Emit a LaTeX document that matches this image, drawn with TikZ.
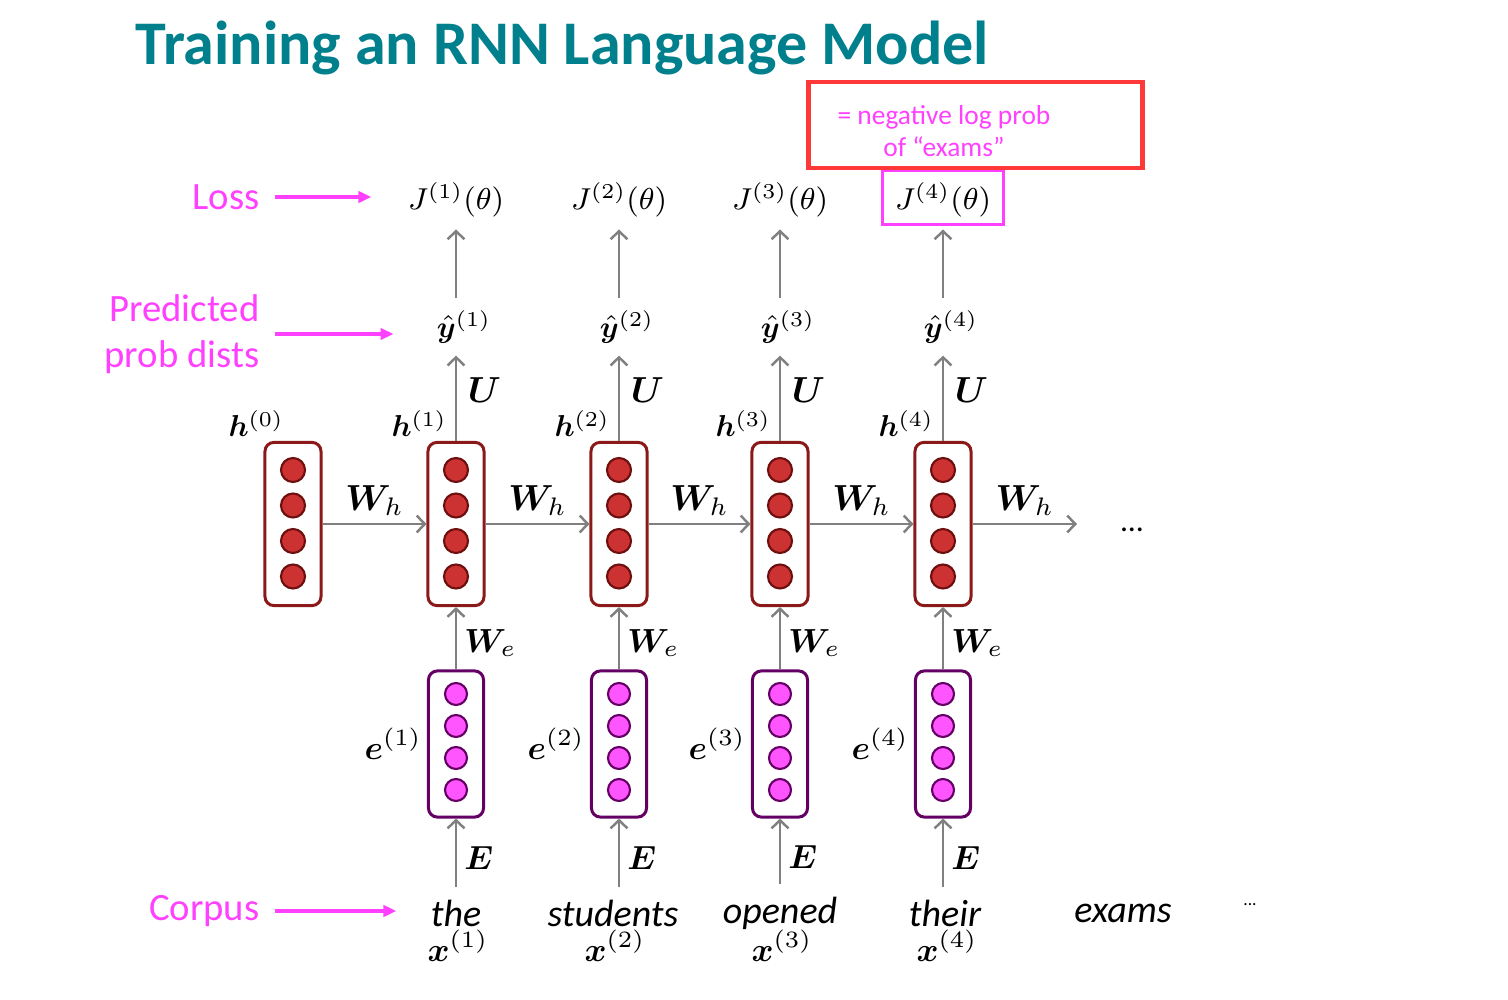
\RequirePackage{fix-cm}
\documentclass[tikz,border=0pt]{standalone}
\usepackage{fontspec}
\setmainfont{Carlito}
\usepackage{amsmath}
\usepackage{bm}
\usepackage{tikz}
\usetikzlibrary{arrows.meta, positioning, calc}
\definecolor{titleteal}{RGB}{0,128,140}
\definecolor{pinkfg}{RGB}{255,64,255}
\definecolor{notered}{RGB}{255,56,56}
\definecolor{hidfill}{RGB}{205,50,50}
\definecolor{hidedge}{RGB}{140,25,25}
\definecolor{hiddot}{RGB}{110,15,15}
\definecolor{embfill}{RGB}{255,85,255}
\definecolor{embedge}{RGB}{100,0,100}
\definecolor{flowgray}{RGB}{128,128,128}

\begin{document}
\begin{tikzpicture}[x=0.01cm, y=-0.01cm,
    flow/.style={draw=flowgray, line width=0.7pt, -{Straight Barb[length=2.3pt,width=4.8pt]}},
    pointer/.style={draw=pinkfg, line width=1.1pt, -{Triangle[length=3.7pt,width=3.2pt]}},
    hbox/.style={draw=hidedge, line width=0.85pt, fill=white, rounded corners=2.5pt, minimum width=0.56cm, minimum height=1.63cm, inner sep=0pt},
    ebox/.style={draw=embedge, line width=0.85pt, fill=white, rounded corners=2.5pt, minimum width=0.55cm, minimum height=1.46cm, inner sep=0pt},
    hdot/.style={circle, draw=hiddot, fill=hidfill, line width=0.6pt, minimum size=0.24cm, inner sep=0pt},
    edot/.style={circle, draw=embedge, fill=embfill, line width=0.6pt, minimum size=0.22cm, inner sep=0pt},
    mathlbl/.style={font=\fontsize{9.5}{11}\selectfont},
    smallmath/.style={font=\fontsize{8.6}{10}\selectfont},
    bigmath/.style={font=\fontsize{10.3}{12}\selectfont},
    sidelbl/.style={text=pinkfg, font=\fontsize{11}{13}\selectfont, align=right, anchor=east, inner sep=0pt},
    wordlbl/.style={font=\fontsize{10.8}{12}\selectfont\itshape}]
    \useasboundingbox (0,0) rectangle (1508,1000);

    % --- Title ---
    \node[anchor=west, inner sep=0pt, text=titleteal, font=\fontsize{17.65}{20}\selectfont\bfseries] (title) at (135,48) {Training an RNN Language Model};

    % --- Hidden states h^(0) ... h^(4) ---
    \foreach \i/\x in {0/293,1/456,2/619,3/780,4/943} {
      \node[hbox] (h\i) at (\x,524) {};
      \foreach \d in {0,...,3}
        \node[hdot] (hd\i\d) at (\x,{470+35.5*\d}) {};
      \node[smallmath, anchor=south east, inner sep=1pt] (hl\i) at ([xshift=-0.05cm]h\i.north) {$\bm{h}^{(\i)}$};
    }

    % --- Embeddings, outputs, losses and words ---
    \foreach \i/\x/\wx/\word in {1/456/456/the,2/619/613/students,3/780/780/opened,4/943/945/their} {
      \node[ebox] (e\i) at (\x,744) {};
      \foreach \d in {0,...,3}
        \node[edot] (ed\i\d) at (\x,{694+32*\d}) {};
      \node[mathlbl, anchor=east, inner sep=1pt] (el\i) at ([xshift=-0.01cm]e\i.west) {$\bm{e}^{(\i)}$};
      \node[smallmath] (y\i) at (\x+8,327) {$\hat{\bm{y}}^{(\i)}$};
      \node[smallmath] (J\i) at (\x,200) {$J^{(\i)}(\theta)$};
      \node[wordlbl] (w\i) at (\wx,913) {\word};
      \node[mathlbl] (x\i) at (\wx+2,946) {$\bm{x}^{(\i)}$};
      % vertical flow: word -> e -> h -> y -> J
      \draw[flow] (e\i |- w\i.north) -- node[mathlbl, pos=0.42, right, inner sep=2pt] (lE\i) {$\bm{E}$} (e\i.south);
      \draw[flow] (e\i.north) -- node[mathlbl, pos=0.42, right, inner sep=2pt] (lWe\i) {$\bm{W}_e$} (h\i.south);
      \draw[flow] (h\i.north) -- node[bigmath, pos=0.6, right, inner sep=3pt] (lU\i) {$\bm{U}$} (h\i.north |- y\i.south);
      \draw[flow] (h\i |- y\i.north) -- (h\i |- J\i.south);
    }

    % Loss of 4th step is boxed
    \draw[pinkfg, line width=0.7pt] ([yshift=0.05cm]J4.south west) rectangle (J4.north east);

    % --- Recurrent connections ---
    \foreach \i/\j in {0/1,1/2,2/3,3/4}
      \draw[flow] (h\i) -- node[bigmath, above, inner sep=2pt] (lWh\i) {$\bm{W}_h$} (h\j);
    \coordinate (hend) at (1077,524);
    \draw[flow] (h4) -- node[bigmath, above, inner sep=2pt] (lWh4) {$\bm{W}_h$} (hend);
    \node[font=\small] (more) at (1132,530) {...};

    % --- Words after the last input ---
    \node[wordlbl] (w5) at (1123,913) {exams};
    \node[font=\tiny] (wmore) at (1250,905) {...};

    % --- Note on J^(4) ---
    \node[draw=notered, line width=1.4pt, minimum width=3.34cm, minimum height=0.86cm] (note) at (975.5,125) {};
    \node[text=pinkfg, font=\fontsize{7.8}{9.1}\selectfont, align=center] (notetext) at (944,131) {= negative log prob\\of “exams”};

    % --- Side labels ---
    \node[sidelbl] (loss) at (260,197) {Loss};
    \node[sidelbl] (pred) at (260,334) {Predicted\\prob dists};
    \node[sidelbl] (corpus) at (260,911) {Corpus};
    \draw[pointer] ([xshift=0.15cm]loss.east) -- ([xshift=-0.24cm]loss.east -| J1.west);
    \draw[pointer] ([xshift=0.15cm]pred.east) -- ([xshift=-0.31cm]pred.east -| y1.west);
    \draw[pointer] ([xshift=0.15cm]corpus.east) -- ([xshift=-0.22cm]corpus.east -| w1.west);
  \end{tikzpicture}
\end{document}
